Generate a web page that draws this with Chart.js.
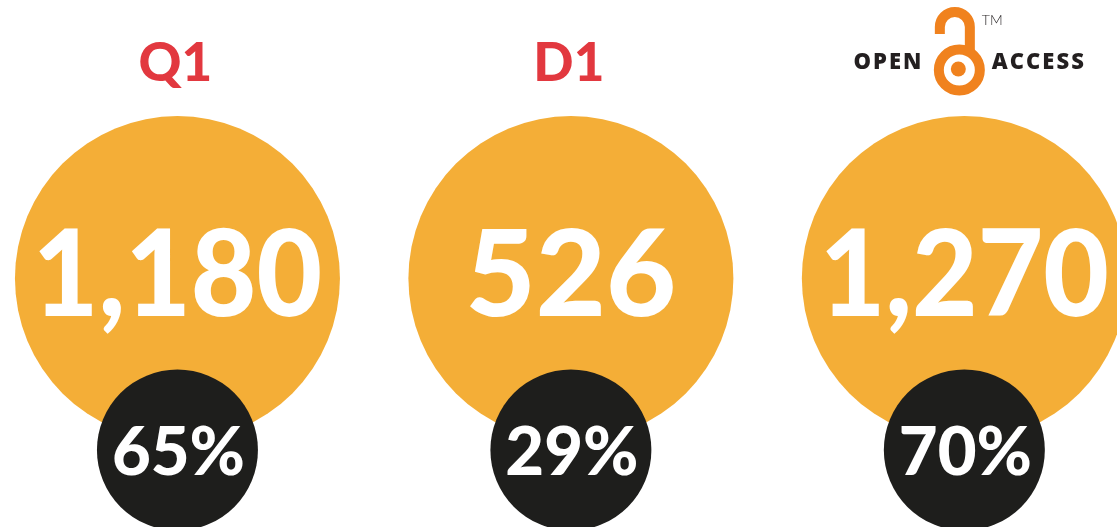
<!DOCTYPE html>
<html>
<head>
<meta charset="utf-8">
<script src="https://cdn.jsdelivr.net/npm/chart.js@4"></script>
<style>
  html, body { margin: 0; padding: 0; background: #ffffff; }
  #wrap { width: 1117px; height: 527px; position: relative; }
</style>
</head>
<body>
<div id="wrap"><canvas id="statsChart"></canvas></div>
<script>
// data
const categories = ['Q1', 'D1', 'OPEN ACCESS'];
const articleCounts = [1180, 526, 1270];
const sharePercents = [65, 29, 70];

const ORANGE = '#f4ae37';
const DARK = '#1e1e1c';
const RED = '#e2383f';
const LOGO_ORANGE = '#f0821e';
const BIG_R = 162.5;
const SMALL_R = 80.5;

function drawOpenAccess(ctx, cx) {
    ctx.save();
    ctx.fillStyle = '#231f20';
    ctx.font = '800 22px "Open Sans"';
    ctx.letterSpacing = '2px';
    ctx.textBaseline = 'alphabetic';
    ctx.textAlign = 'right';
    ctx.fillText('OPEN', cx - 41, 68.5);
    ctx.textAlign = 'left';
    ctx.fillText('ACCESS', cx + 27.5, 68.5);
    ctx.letterSpacing = '0px';
    ctx.font = '300 14px Lato';
    ctx.fillText('TM', cx + 17.5, 25);

    // padlock
    ctx.strokeStyle = LOGO_ORANGE;
    ctx.fillStyle = LOGO_ORANGE;
    ctx.lineWidth = 10;
    ctx.beginPath();
    ctx.arc(cx - 5, 70, 20.5, 0, Math.PI * 2);
    ctx.stroke();
    ctx.beginPath();
    ctx.arc(cx - 6, 69, 7.5, 0, Math.PI * 2);
    ctx.fill();
    ctx.beginPath();
    ctx.moveTo(cx - 24.5, 34);
    ctx.lineTo(cx - 24.5, 27);
    ctx.arc(cx - 9.5, 27, 15, Math.PI, 0, false);
    ctx.lineTo(cx + 5.5, 52);
    ctx.stroke();
    ctx.restore();
}

const labelPlugin = {
    id: 'labelPlugin',
    afterDatasetsDraw(chart) {
        const ctx = chart.ctx;
        const big = chart.getDatasetMeta(1).data;
        const small = chart.getDatasetMeta(0).data;
        ctx.save();
        ctx.textAlign = 'center';
        ctx.textBaseline = 'alphabetic';
        categories.forEach((cat, i) => {
            const b = big[i];
            const s = small[i];
            // heading
            if (cat === 'OPEN ACCESS') {
                drawOpenAccess(ctx, b.x);
            } else {
                ctx.fillStyle = RED;
                ctx.font = '900 53px Lato';
                ctx.fillText(cat, b.x - 2, 81);
            }
            // count
            ctx.fillStyle = '#ffffff';
            ctx.font = '900 121px Lato';
            ctx.fillText(articleCounts[i].toLocaleString('en-US'), b.x, b.y + 37.5, BIG_R * 1.78);
            // percent
            ctx.font = '900 67px Lato';
            ctx.fillText(sharePercents[i] + '%', s.x + 1, s.y + 25);
        });
        ctx.restore();
    }
};

new Chart(document.getElementById('statsChart'), {
    type: 'bubble',
    data: {
        datasets: [
            {
                label: 'Percent',
                data: categories.map((c, i) => ({ x: i, y: 0 })),
                backgroundColor: DARK,
                borderWidth: 0,
                radius: SMALL_R,
                hoverRadius: 0,
                clip: false,
            },
            {
                label: 'Articles',
                data: categories.map((c, i) => ({ x: i, y: 1 })),
                backgroundColor: ORANGE,
                borderWidth: 0,
                radius: BIG_R,
                hoverRadius: 0,
                clip: false,
            },
        ],
    },
    options: {
        responsive: true,
        maintainAspectRatio: false,
        animation: false,
        events: [],
        layout: { padding: 0, autoPadding: false },
        plugins: {
            legend: { display: false },
            tooltip: { enabled: false },
        },
        scales: {
            x: { type: 'linear', display: false, min: -0.451, max: 2.388 },
            y: { type: 'linear', display: false, min: -0.449, max: 2.624 },
        },
    },
    plugins: [labelPlugin],
});
</script>
</body>
</html>
